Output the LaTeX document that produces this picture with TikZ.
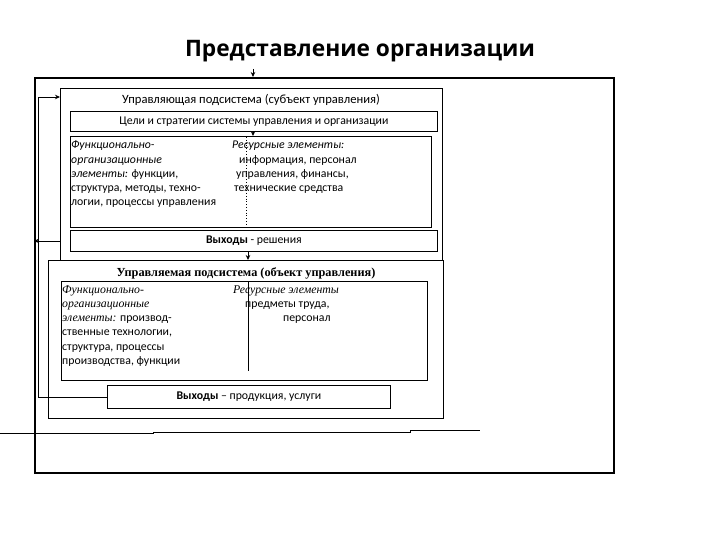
\documentclass[tikz,border=0pt]{standalone}
\usepackage{fontspec}
\setmainfont{Carlito}
\newfontfamily\serifru{Liberation Serif}
\newfontfamily\titlefont{Open Sans}
\usetikzlibrary{arrows.meta}
\newcommand\tf{\fontsize{11.8}{13}\selectfont}
\newcommand\sit[1]{{\serifru\itshape #1}}
\begin{document}
\begin{tikzpicture}[x=1pt,y=-1pt,
  box/.style={draw, line width=0.8pt, anchor=north west, inner sep=0pt, font=\tf},
  tl/.style={anchor=base west, inner sep=0pt, font=\tf},
  tc/.style={anchor=base, inner sep=0pt, font=\tf},
  tip/.style={line width=0.8pt, -{Stealth[length=5pt,width=4.5pt]}},
  ln/.style={line width=0.8pt}]
\useasboundingbox (0,0) rectangle (720,540);
\node[anchor=base, inner sep=0pt, font=\titlefont\fontsize{22.7}{25}\selectfont\bfseries] (title) at (360,57) {Представление организации};
\node[draw, line width=1.8pt, anchor=north west, inner sep=0pt, minimum width=579pt, minimum height=395pt] (outer) at (34,77) {};
% boxes
\node[box, minimum width=382pt, minimum height=172pt] (ctrl) at (60,88) {};
\node[box, minimum width=367pt, minimum height=20pt] (goals) at (70,111) {Цели и стратегии системы управления и организации};
\node[box, minimum width=361pt, minimum height=91pt] (inner1) at (70,136) {};
\node[box, minimum width=367pt, minimum height=21pt] (out1) at (70,230) {\textbf{Выходы} - решения};
\node[box, fill=white, minimum width=395pt, minimum height=158pt] (lower) at (48,260) {};
\node[box, minimum width=366pt, minimum height=99pt] (inner2) at (61,281) {};
\node[box, minimum width=283pt, minimum height=23pt] (out2) at (107,385) {\textbf{Выходы} – продукция, услуги};
% titles
\node[tc, font=\fontsize{12.6}{14}\selectfont] (ctrltitle) at (251,104) {Управляющая подсистема (субъект управления)};
\node[tc, font=\serifru\bfseries\fontsize{12.3}{14}\selectfont] (lowtitle) at (246,276) {Управляемая подсистема (объект управления)};
% inner1 text
\node[tl] (a1) at (71,149) {\textit{Функционально-}};
\node[tl] (a2) at (71,163.2) {\textit{организационные}};
\node[tl] (a3) at (71,177.4) {\textit{элементы:} функции,};
\node[tl] (a4) at (71,191.6) {структура, методы, техно-};
\node[tl] (a5) at (71,205.8) {логии, процессы управления};
\node[tl] (b1) at (232,149) {\textit{Ресурсные элементы:}};
\node[tl] (b2) at (239,163.2) {информация, персонал};
\node[tl] (b3) at (236,177.4) {управления, финансы,};
\node[tl] (b4) at (234,191.6) {технические средства};
% inner2 text
\node[tl] (c1) at (62,293) {\sit{Функционально-}};
\node[tl] (c2) at (62,307.3) {\sit{организационные}};
\node[tl] (c3) at (62,321.6) {\sit{элементы:} производ-};
\node[tl] (c4) at (62,335.9) {ственные технологии,};
\node[tl] (c5) at (62,350.2) {структура, процессы};
\node[tl] (c6) at (62,364.5) {производства, функции};
\node[tl] (d1) at (233,293) {\sit{Ресурсные элементы}};
\node[tl] (d2) at (245,307.3) {предметы труда,};
\node[tl] (d3) at (283,321.6) {персонал};
% connectors
\coordinate (topin) at (253,69);
\coordinate (midA) at (248,0);
\coordinate (dA) at (246,0);
\coordinate (fbx) at (38,0);
\coordinate (fbin) at (60,97);
\draw[tip] (topin) -- (topin |- outer.north);
\draw[tip] (goals.south -| topin) -- (inner1.north -| topin);
\draw[tip] (out1.south -| midA) -- (lower.north -| midA);
\draw[ln, dotted] ([yshift=-1pt]inner1.north -| dA) -- ([yshift=2pt]inner1.south -| dA);
\draw[ln] ([yshift=-1pt]inner2.north -| midA) -- ([yshift=10pt]inner2.south -| midA);
\draw[tip] (out2.west) -- (out2.west -| fbx) -- (fbx |- fbin) -- (fbin);
\draw[tip] (out1.west -| ctrl.west) -- (out1.west -| outer.west);
\coordinate (h0) at (0,433);
\coordinate (h1) at (153,433);
\coordinate (h1b) at (153,432);
\coordinate (h2) at (410,432);
\coordinate (h2b) at (410,430);
\coordinate (h3) at (480,430);
\draw[ln] (h0) -- (h1) -- (h1b) -- (h2) -- (h2b) -- (h3);
\end{tikzpicture}
\end{document}
